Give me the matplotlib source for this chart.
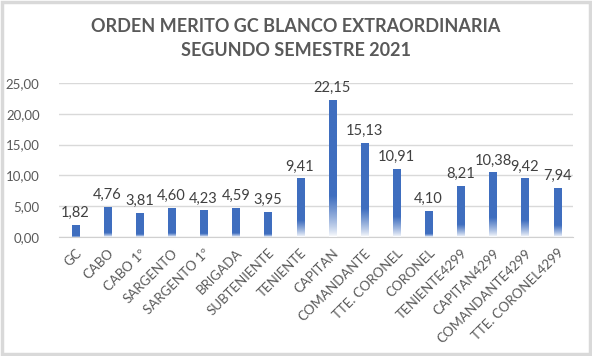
import numpy as np
import matplotlib.pyplot as plt
from matplotlib.colors import to_rgb
from matplotlib.patches import Rectangle

categories = ['GC', 'CABO', 'CABO 1º', 'SARGENTO', 'SARGENTO 1º', 'BRIGADA',
              'SUBTENIENTE', 'TENIENTE', 'CAPITAN', 'COMANDANTE', 'TTE. CORONEL',
              'CORONEL', 'TENIENTE4299', 'CAPITAN4299', 'COMANDANTE4299',
              'TTE. CORONEL4299']
values = [1.82, 4.76, 3.81, 4.60, 4.23, 4.59, 3.95, 9.41, 22.15, 15.13,
          10.91, 4.10, 8.21, 10.38, 9.42, 7.94]
yticks = [0, 5, 10, 15, 20, 25]

plt.rcParams['font.family'] = ['Lato', 'DejaVu Sans']

fig = plt.figure(figsize=(5.92, 3.56), dpi=100)
fig.patches.append(Rectangle((0.003, 0.005), 0.994, 0.99, transform=fig.transFigure,
                             fill=False, edgecolor='#d9d9d9', linewidth=2.5))
ax = fig.add_axes([0.0997, 0.334, 0.8686, 0.433])

x = np.arange(len(categories))
w = 0.22
blue = np.array(to_rgb('#3f6ebf'))
white = np.ones(3)
n = 200
for xi, h in zip(x, values):
    # fade toward white at the bottom, stronger on tall bars
    depth = 0.3 * h * min(1.0, h / 10.0)
    yy = np.linspace(0, h, n)
    a = np.clip(yy / max(depth, 1e-6), 0, 1) ** 0.8
    col = white[None, :] * (1 - a[:, None]) + blue[None, :] * a[:, None]
    img = col[::-1][:, None, :]
    ax.imshow(img, extent=[xi - w / 2, xi + w / 2, 0, h], aspect='auto',
              interpolation='bilinear', zorder=3)
    ax.annotate(f'{h:.2f}'.replace('.', ','), (xi, h), xytext=(0, 4),
                textcoords='offset points', ha='center', va='bottom',
                fontsize=10.5, color='#404040')

ax.set_xlim(-0.5, len(categories) - 0.5)
ax.set_ylim(0, 25)
ax.set_yticks(yticks)
ax.set_yticklabels([f'{v:.2f}'.replace('.', ',') for v in yticks])
ax.set_xticks(x)
ax.set_xticklabels(categories, rotation=45, ha='right', va='top',
                   rotation_mode='anchor')
ax.tick_params(axis='both', length=0, labelsize=9.5, labelcolor='#595959')
ax.tick_params(axis='y', pad=14)
ax.tick_params(axis='x', pad=7)
ax.grid(axis='y', color='#d9d9d9', linewidth=1, zorder=0)
ax.set_axisbelow(True)
for s in ['left', 'right', 'top']:
    ax.spines[s].set_visible(False)
ax.spines['bottom'].set_color('#d0d0d0')

fig.text(0.5, 0.95, 'ORDEN MERITO GC BLANCO EXTRAORDINARIA\nSEGUNDO SEMESTRE 2021',
         ha='center', va='top', fontsize=13, fontweight='bold', color='#595959',
         linespacing=1.5)

fig.savefig('out.png', dpi=100)
